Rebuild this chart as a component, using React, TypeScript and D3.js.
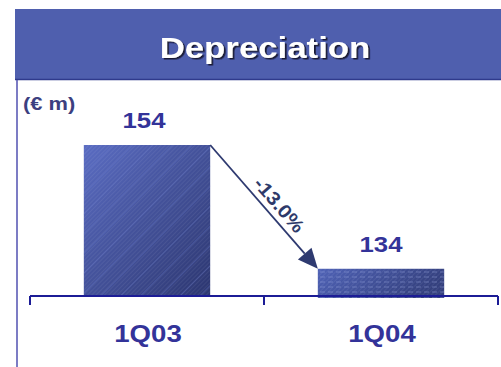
import React from "react";
import * as d3 from "d3";

const categories = ["1Q03", "1Q04"];
const values = [154, 134];
const changeLabel = "-13.0%";
const title = "Depreciation";
const unitLabel = "(€ m)";

const W = 501;
const H = 367;
const axisY = 296;
const SX = 1.2;

function SText(props: { x: number; y: number; size: number; fill: string; children: any; anchor?: string; filter?: string; rot?: number; baseline?: string; sx?: number }) {
  const { x, y, size, fill, children, anchor = "middle", filter, rot = 0, baseline, sx = SX } = props;
  return (
    <g transform={`translate(${x},${y}) rotate(${rot}) scale(${sx},1)`}>
      <text x={0} y={0} textAnchor={anchor} fontSize={size} fontWeight="bold" fill={fill} filter={filter} dominantBaseline={baseline}>{children}</text>
    </g>
  );
}

export default function App() {
  const x = d3.scaleBand<string>().domain(categories).range([30, 498]).paddingInner(0.46).paddingOuter(0.23);
  const y = d3.scaleLinear().domain([129.6, 154]).range([axisY, 145]);
  const bw = x.bandwidth();
  const b0x = x(categories[0])!;
  const b1x = x(categories[1])!;
  const x1 = b0x + bw, y1 = y(values[0]);
  const x2 = b1x, y2 = y(values[1]);
  const ang = Math.atan2(y2 - y1, x2 - x1);
  const angDeg = (ang * 180) / Math.PI;
  const mx = (x1 + x2) / 2, my = (y1 + y2) / 2;
  const nx = Math.sin(ang), ny = -Math.cos(ang);
  const lx = mx + 14, ly = my - 1;
  const headLen = 20, headW = 9;
  const bx = x2 - Math.cos(ang) * headLen, by = y2 - Math.sin(ang) * headLen;
  const head = `M${x2},${y2} L${bx + nx * headW},${by + ny * headW} L${bx - nx * headW},${by - ny * headW} Z`;
  const ticks = [30, x(categories[1])! - (x.step() - bw) / 2, 498];
  return (
    <svg width={W} height={H} style={{ position: "absolute", left: 0, top: 0 }} fontFamily="'Liberation Sans', Arial, sans-serif">
      <defs>
        <linearGradient id="g1" x1="0" y1="0" x2="1" y2="1">
          <stop offset="0" stopColor="#5a6cc2" />
          <stop offset="1" stopColor="#2c3670" />
        </linearGradient>
        <linearGradient id="g2" x1="0" y1="0" x2="1" y2="0.3">
          <stop offset="0" stopColor="#4f62b6" />
          <stop offset="1" stopColor="#34407e" />
        </linearGradient>
        <pattern id="diag" width="14" height="14" patternUnits="userSpaceOnUse" patternTransform="rotate(45)">
          <line x1="0" y1="0" x2="0" y2="14" stroke="#6a7cd0" strokeOpacity="0.55" strokeWidth="1.2" />
        </pattern>
        <pattern id="fine" width="3" height="3" patternUnits="userSpaceOnUse" patternTransform="rotate(45)">
          <line x1="0" y1="0" x2="0" y2="3" stroke="#ffffff" strokeOpacity="0.12" strokeWidth="1" />
        </pattern>
        <pattern id="dash" width="8" height="5" patternUnits="userSpaceOnUse">
          <line x1="0" y1="2" x2="5" y2="2" stroke="#9aa8e0" strokeOpacity="0.45" strokeWidth="1" />
        </pattern>
        <filter id="sh" x="-10%" y="-10%" width="120%" height="130%">
          <feDropShadow dx="1.5" dy="1.5" stdDeviation="0.3" floodColor="#14142e" floodOpacity="0.95" />
        </filter>
      </defs>
      <rect x={0} y={0} width={W} height={H} fill="#fff" />
      <rect x={15} y={9} width={W - 15} height={70} fill="#4f5fae" />
      <line x1={15} y1={79.5} x2={W} y2={79.5} stroke="#2f3a8c" strokeWidth={1.5} />
      <SText x={265} y={58} size={29} fill="#fff" filter="url(#sh)">{title}</SText>
      <line x1={17} y1={80} x2={17} y2={H} stroke="#5050b0" strokeWidth={1.5} />
      <SText x={23} y={110} size={19} fill="#3c3f80" anchor="start" sx={1.15}>{unitLabel}</SText>
      {values.map((v, i) => {
        const bxp = x(categories[i])!;
        const top = y(v);
        const hgt = axisY - top + (i === 1 ? 2 : 0);
        return (
          <g key={i}>
            <rect x={bxp} y={top} width={bw} height={hgt} fill={i === 0 ? "url(#g1)" : "url(#g2)"} />
            <rect x={bxp} y={top} width={bw} height={hgt} fill="url(#fine)" />
            <rect x={bxp} y={top} width={bw} height={hgt} fill={i === 0 ? "url(#diag)" : "url(#dash)"} />
            <SText x={bxp + bw / 2 - (i === 0 ? 3 : 0)} y={top - 17} size={23} sx={1.12} fill="#333399">{v}</SText>
            <SText x={bxp + bw / 2 + 1} y={342} size={23} fill="#333399">{categories[i]}</SText>
          </g>
        );
      })}
      <line x1={30} y1={axisY} x2={498} y2={axisY} stroke="#1c1c96" strokeWidth={2} />
      {ticks.map((t, i) => (
        <line key={i} x1={t} y1={axisY} x2={t} y2={axisY + 9} stroke="#1c1c96" strokeWidth={2} />
      ))}
      <line x1={x1} y1={y1} x2={bx} y2={by} stroke="#2e3a70" strokeWidth={1.8} />
      <path d={head} fill="#2e3a70" />
      <SText x={lx} y={ly} size={19} sx={1.1} fill="#2e3a6a" rot={angDeg} baseline="middle">{changeLabel}</SText>
    </svg>
  );
}
